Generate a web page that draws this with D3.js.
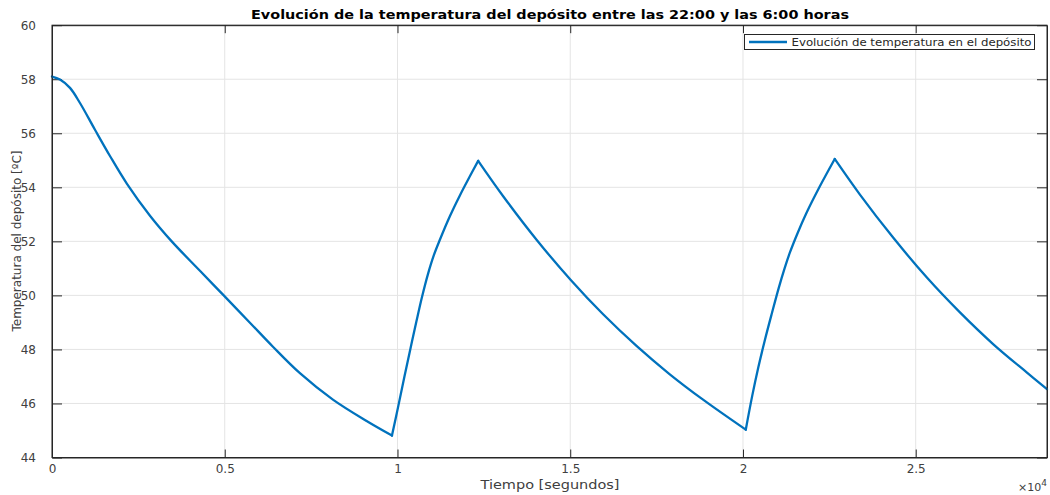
<!DOCTYPE html>
<html>
<head>
<meta charset="utf-8">
<script src="https://cdn.jsdelivr.net/npm/d3@7"></script>
<style>
  html, body { margin: 0; padding: 0; background: #ffffff; }
  svg { display: block; font-family: "DejaVu Sans", sans-serif; }
</style>
</head>
<body>
<svg id="chart" width="1050" height="495"></svg>
<script>
// ---- data ----
const chartTitle = "Evolución de la temperatura del depósito entre las 22:00 y las 6:00 horas";
const xLabel = "Tiempo [segundos]";
const yLabel = "Temperatura del depósito [ºC]";
const seriesName = "Evolución de temperatura en el depósito";

// time in seconds
const timeSec = [
  // cooling 1
  0, 231, 521, 810, 1244, 1678, 2170, 2836, 3472, 4282, 4977, 5729, 6395, 7176, 8131, 9106, 9840,
  // heating 1
  10026, 10200, 10373, 10547, 10706, 10880, 11053, 11227, 11516, 11806, 12095, 12335,
  // cooling 2
  13059, 14025, 15009, 15952, 16918, 17882, 18845, 20081,
  // heating 2
  20269, 20443, 20631, 20833, 21036, 21209, 21354, 21586, 21837, 22222, 22656,
  // cooling 3
  23380, 24346, 25330, 26273, 27240, 28203, 28800
];
// temperature in ºC
const tempC = [
  58.10, 57.99, 57.68, 57.12, 56.13, 55.16, 54.13, 52.95, 51.99, 50.91, 49.99, 48.99, 48.10, 47.12, 46.14, 45.35, 44.81,
  45.92, 46.99, 48.02, 49.03, 49.92, 50.78, 51.49, 52.06, 52.93, 53.70, 54.41, 54.98,
  53.67, 52.06, 50.58, 49.30, 48.13, 47.08, 46.14, 45.03,
  46.29, 47.33, 48.33, 49.32, 50.28, 51.02, 51.57, 52.32, 53.05, 54.03, 55.05,
  53.74, 52.14, 50.65, 49.38, 48.20, 47.16, 46.53
];
// indices where the curve changes direction (heater on/off)
const cornerIdx = [0, 16, 28, 36, 47, 54];

const xTicks = [0, 5000, 10000, 15000, 20000, 25000];
const xTickLabels = ["0", "0.5", "1", "1.5", "2", "2.5"];
const yTicks = [44, 46, 48, 50, 52, 54, 56, 58, 60];
const xDomain = [0, 28800];
const yDomain = [44, 60];

// ---- layout ----
const mLeft = 52, mRight = 1047, mTop = 25.2, mBottom = 457.5;
const axisColor = "#262626", labelColor = "#404040", gridColor = "#e4e4e4";
const lineColor = "#0072BD";

const svg = d3.select("#chart");
const x = d3.scaleLinear().domain(xDomain).range([mLeft, mRight]);
const y = d3.scaleLinear().domain(yDomain).range([mBottom, mTop]);

// grid
svg.append("g").selectAll("line").data(xTicks).join("line")
  .attr("x1", d => x(d)).attr("x2", d => x(d))
  .attr("y1", mTop).attr("y2", mBottom)
  .attr("stroke", gridColor).attr("stroke-width", 1);
svg.append("g").selectAll("line").data(yTicks).join("line")
  .attr("x1", mLeft).attr("x2", mRight)
  .attr("y1", d => y(d)).attr("y2", d => y(d))
  .attr("stroke", gridColor).attr("stroke-width", 1);

// axes (ticks inside)
const xAxisB = d3.axisBottom(x).tickValues(xTicks).tickSizeInner(-8).tickSizeOuter(0)
  .tickFormat((d, i) => xTickLabels[i]).tickPadding(12);
const gx = svg.append("g").attr("transform", `translate(0,${mBottom})`).call(xAxisB);
const xAxisT = d3.axisTop(x).tickValues(xTicks).tickSizeInner(-8).tickSizeOuter(0).tickFormat("");
const gxt = svg.append("g").attr("transform", `translate(0,${mTop})`).call(xAxisT);
const yAxisL = d3.axisLeft(y).tickValues(yTicks).tickSizeInner(-10).tickSizeOuter(0).tickPadding(16);
const gy = svg.append("g").attr("transform", `translate(${mLeft},0)`).call(yAxisL);
const yAxisR = d3.axisRight(y).tickValues(yTicks).tickSizeInner(-10).tickSizeOuter(0).tickFormat("");
const gyr = svg.append("g").attr("transform", `translate(${mRight},0)`).call(yAxisR);

[gx, gxt, gy, gyr].forEach(g => {
  g.select(".domain").attr("stroke", axisColor).attr("stroke-width", 1);
  g.selectAll(".tick line").attr("stroke", axisColor).attr("stroke-width", 1);
  g.selectAll(".tick text").attr("fill", labelColor)
    .attr("font-family", "DejaVu Sans, sans-serif").attr("font-size", 12);
});
gx.selectAll(".tick text").attr("dy", "0.35em").attr("y", 11);

// ×10^4 exponent label
const expo = svg.append("text").attr("x", mRight).attr("y", 491)
  .attr("text-anchor", "end").attr("fill", labelColor)
  .attr("font-family", "DejaVu Sans, sans-serif").attr("font-size", 11);
expo.append("tspan").text("×10");
expo.append("tspan").attr("dy", -5).attr("font-size", 9).text("4");

// data line, one path per heating / cooling stretch
const pts = timeSec.map((t, i) => [t, tempC[i]]);
const line = d3.line().x(d => x(d[0])).y(d => y(d[1])).curve(d3.curveCatmullRom.alpha(0.5));
const segs = d3.pairs(cornerIdx).map(([a, b]) => pts.slice(a, b + 1));
svg.append("g").selectAll("path").data(segs).join("path")
  .attr("d", line)
  .attr("fill", "none").attr("stroke", lineColor).attr("stroke-width", 2.3)
  .attr("stroke-linejoin", "round").attr("stroke-linecap", "round");

// box redrawn on top
svg.append("rect").attr("x", mLeft).attr("y", mTop)
  .attr("width", mRight - mLeft).attr("height", mBottom - mTop)
  .attr("fill", "none").attr("stroke", axisColor).attr("stroke-width", 1);

// title
svg.append("text").attr("x", 550).attr("y", 19).attr("text-anchor", "middle")
  .attr("font-family", "DejaVu Sans, sans-serif").attr("font-weight", "bold")
  .attr("font-size", 12.5).attr("fill", "#000")
  .attr("textLength", 598).attr("lengthAdjust", "spacingAndGlyphs")
  .text(chartTitle);

// axis labels
svg.append("text").attr("x", 550).attr("y", 489).attr("text-anchor", "middle")
  .attr("font-family", "DejaVu Sans, sans-serif").attr("font-size", 13)
  .attr("fill", labelColor)
  .attr("textLength", 139).attr("lengthAdjust", "spacingAndGlyphs")
  .text(xLabel);
svg.append("text").attr("transform", "translate(21,241) rotate(-90)")
  .attr("text-anchor", "middle")
  .attr("font-family", "DejaVu Sans, sans-serif").attr("font-size", 12)
  .attr("fill", labelColor)
  .text(yLabel);

// legend
const lg = svg.append("g");
lg.append("rect").attr("x", 744.5).attr("y", 34.5).attr("width", 290).attr("height", 15)
  .attr("fill", "#fff").attr("stroke", axisColor).attr("stroke-width", 1);
lg.append("line").attr("x1", 749).attr("x2", 787).attr("y1", 42).attr("y2", 42)
  .attr("stroke", lineColor).attr("stroke-width", 2.3);
lg.append("text").attr("x", 791.5).attr("y", 46).attr("font-family", "DejaVu Sans, sans-serif")
  .attr("font-size", 11.3).attr("fill", axisColor)
  .attr("textLength", 240).attr("lengthAdjust", "spacingAndGlyphs")
  .text(seriesName);
</script>
</body>
</html>
